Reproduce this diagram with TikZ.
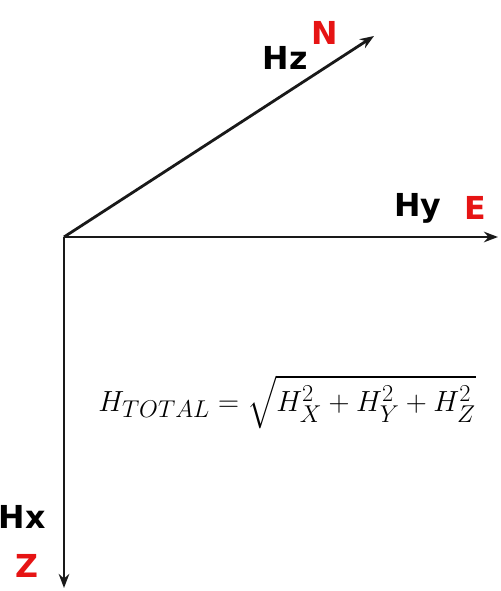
\documentclass[tikz,border=0pt]{standalone}
\usepackage{amsmath}
\usepackage{fontspec}
\setsansfont{DejaVu Sans}
\usepackage{tikz}
\usetikzlibrary{arrows.meta, positioning}
\definecolor{axis}{RGB}{25,25,25}
\definecolor{dirred}{RGB}{230,20,20}

\begin{document}
\begin{tikzpicture}[x=0.03cm, y=-0.03cm, font=\sffamily\bfseries\fontsize{27}{30}\selectfont,
  axisline/.style={draw=axis, line width=2.4pt, -{Stealth[length=12pt, width=9pt]}},
  comp/.style={text=black, inner sep=0pt},
  dir/.style={text=dirred, inner sep=0pt}]
  \useasboundingbox (0,0) rectangle (500,591);
  % axes
  \coordinate (O) at (64,237);
  \coordinate (north) at (374,36);
  \coordinate (east) at (498,237);
  \coordinate (south) at (64,588);
  \draw[axisline] (O) -- (north);
  \draw[axisline] (O) -- (east);
  \draw[axisline] (O) -- (south);
  % labels
  \node[comp] (hz) at (285,58) {Hz};
  \node[dir] (n) at (325,33) {N};
  \node[comp] (hy) at (418,208) {Hy};
  \node[dir] (e) at (475,208) {E};
  \node[comp] (hx) at (22,517) {Hx};
  \node[dir] (z) at (27,566) {Z};
  % total field
  \node[font=\fontsize{28.3}{32}\selectfont, inner sep=0pt] (total) at (287,402)
    {$H_{TOTAL}=\sqrt{H_X^2+H_Y^2+H_Z^2}$};
\end{tikzpicture}
\end{document}
